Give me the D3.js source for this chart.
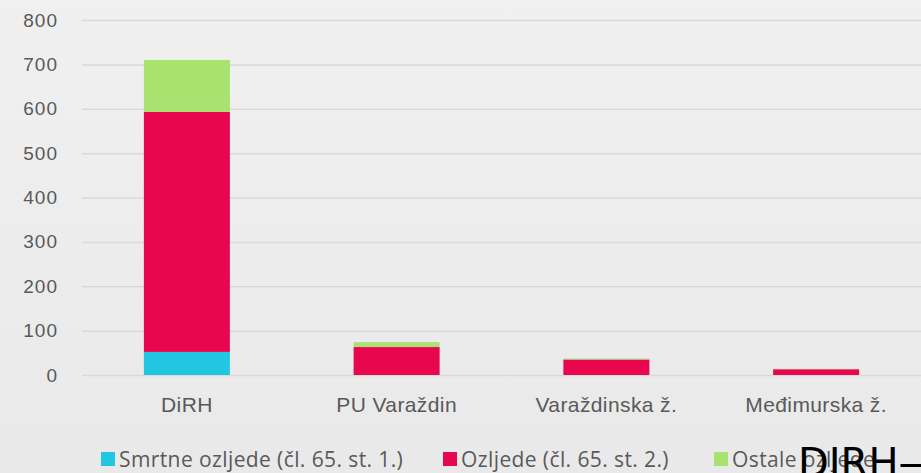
<!DOCTYPE html>
<html>
<head>
<meta charset="utf-8">
<script src="https://cdn.jsdelivr.net/npm/d3@7"></script>
<style>
  body { margin: 0; background: #eeeeee; }
  svg { display: block; font-family: "Open Sans", "Noto Sans", sans-serif; }
</style>
</head>
<body>
<div id="chart"></div>
<script>
// data
let categories = ["DiRH", "PU Varaždin", "Varaždinska ž.", "Međimurska ž."];
let seriesNames = ["Smrtne ozljede (čl. 65. st. 1.)", "Ozljede (čl. 65. st. 2.)", "Ostale ozljede"];
let smrtne = [52, 0, 0, 0];
let ozljede = [541, 63, 35, 13];
let ostale = [117, 11, 2, 1];
let yTicks = [0, 100, 200, 300, 400, 500, 600, 700, 800];
let colors = ["#22c5e2", "#e8064f", "#a8e26f"];

let width = 921;
let height = 473;
let padding = { top: 20, right: 0, bottom: 98, left: 82 };

let rows = categories.map((c, i) => ({
  cat: c,
  s0: smrtne[i],
  s1: ozljede[i],
  s2: ostale[i]
}));
let stack = d3.stack().keys(["s0", "s1", "s2"])(rows);

// scales
let xScale = d3
  .scaleBand()
  .domain(categories)
  .range([padding.left, width - padding.right])
  .paddingInner(0.59)
  .paddingOuter(0.295);
let yScale = d3
  .scaleLinear()
  .domain([0, 800])
  .range([height - padding.bottom, padding.top]);

let svg = d3
  .select("#chart")
  .append("svg")
  .attr("width", width)
  .attr("height", height);

// background, a light grey wash
let grad = svg.append("defs").append("linearGradient")
  .attr("id", "bg").attr("x1", 0).attr("y1", 0).attr("x2", 0).attr("y2", 1);
grad.append("stop").attr("offset", "0%").attr("stop-color", "#f0f0f0");
grad.append("stop").attr("offset", "60%").attr("stop-color", "#ececec");
grad.append("stop").attr("offset", "100%").attr("stop-color", "#e9e9e9");
svg.append("rect").attr("width", width).attr("height", height).attr("fill", "url(#bg)");

// gridlines + y labels
let yAxis = d3
  .axisLeft(yScale)
  .tickValues(yTicks)
  .tickSize(-(width - padding.left - padding.right))
  .tickPadding(24);
let gy = svg
  .append("g")
  .attr("transform", `translate(${padding.left}, 0)`)
  .call(yAxis);
gy.select(".domain").remove();
gy.selectAll(".tick line").attr("stroke", "#d9d9d9").attr("stroke-width", 1.5);
gy.selectAll(".tick text")
  .attr("fill", "#595959")
  .style("font-size", "19px")
  .style("letter-spacing", "1px");

// bars
svg
  .append("g")
  .selectAll("g")
  .data(stack)
  .enter()
  .append("g")
  .attr("fill", (d, i) => colors[i])
  .selectAll("rect")
  .data(d => d)
  .enter()
  .append("rect")
  .attr("x", d => xScale(d.data.cat))
  .attr("width", xScale.bandwidth())
  .attr("y", d => yScale(d[1]))
  .attr("height", d => yScale(d[0]) - yScale(d[1]));

// x labels
let xAxis = d3.axisBottom(xScale).tickSize(0).tickPadding(22);
let gx = svg
  .append("g")
  .attr("transform", `translate(0, ${height - padding.bottom})`)
  .call(xAxis);
gx.select(".domain").remove();
gx.selectAll(".tick text")
  .attr("fill", "#595959")
  .style("font-size", "21px")
  .style("letter-spacing", "0.4px");

// legend
let legendX = [101, 443, 714];
let legend = svg
  .append("g")
  .selectAll("g")
  .data(seriesNames)
  .enter()
  .append("g")
  .attr("transform", (d, i) => `translate(${legendX[i]}, 452)`);
legend
  .append("rect")
  .attr("width", 14)
  .attr("height", 14)
  .attr("fill", (d, i) => colors[i]);
legend
  .append("text")
  .attr("x", 18)
  .attr("y", 15)
  .attr("fill", "#595959")
  .style("font-size", "21px")
  .style("letter-spacing", "0.4px")
  .text(d => d);

// overlay title fragment at the bottom right
svg
  .append("text")
  .attr("x", 798)
  .attr("y", 477)
  .attr("fill", "#000")
  .style("font-family", "'DejaVu Sans', sans-serif")
  .style("font-size", "40px")
  .text("DIRH—");
</script>
</body>
</html>
